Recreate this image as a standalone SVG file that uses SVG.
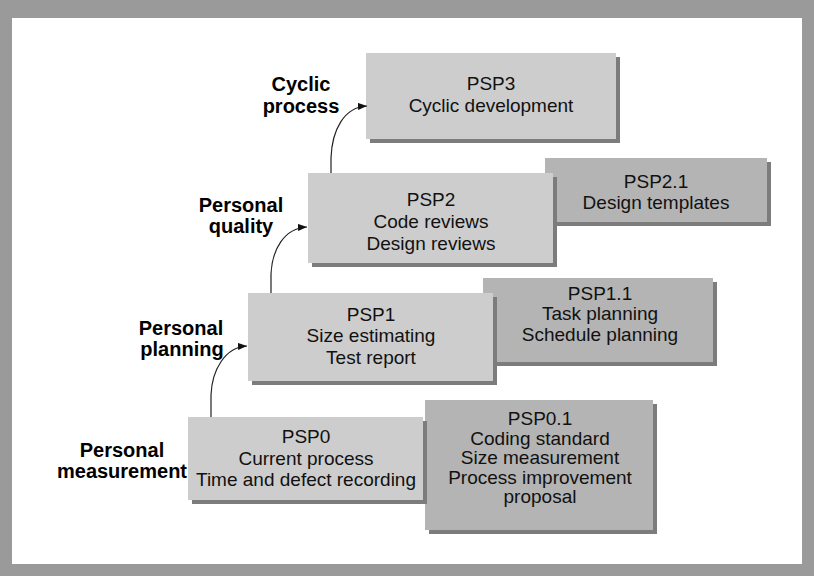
<svg xmlns="http://www.w3.org/2000/svg" width="814" height="576" viewBox="0 0 814 576">
<style>
.frame{fill:#9a9a9a}
.light{fill:#cdcdcd}
.dark{fill:#b4b4b4}
.shadow{fill:#7c7c7c}
.bt{font-family:"Liberation Sans",Arial,sans-serif;font-size:19px;fill:#111;text-anchor:middle}
.lb{font-family:"Liberation Sans",Arial,sans-serif;font-size:20px;font-weight:bold;fill:#000;text-anchor:middle}
.conn{fill:none;stroke:#222;stroke-width:1.2}
</style>
<defs>
<marker id="ah" markerUnits="userSpaceOnUse" markerWidth="9" markerHeight="7" refX="9" refY="3.5" orient="auto">
<path d="M0,0 L9,3.5 L0,7 z" fill="#111"/>
</marker>
</defs>
<rect x="0" y="0" width="814" height="576" class="frame"/>
<rect x="12" y="18" width="790" height="546" fill="#fff"/>

<g id="node-psp3">
<rect x="370" y="57" width="250" height="86" class="shadow"/>
<rect x="366" y="53" width="250" height="86" class="light"/>
<text class="bt" x="491" y="90">PSP3</text>
<text class="bt" x="491" y="112">Cyclic development</text>
</g>

<g id="node-psp2-1">
<rect x="549" y="162" width="222" height="64" class="shadow"/>
<rect x="545" y="158" width="222" height="64" class="dark"/>
<text class="bt" x="656" y="188">PSP2.1</text>
<text class="bt" x="656" y="209">Design templates</text>
</g>

<g id="node-psp2">
<rect x="312" y="177" width="245" height="90" class="shadow"/>
<rect x="308" y="173" width="245" height="90" class="light"/>
<text class="bt" x="431" y="206">PSP2</text>
<text class="bt" x="431" y="228">Code reviews</text>
<text class="bt" x="431" y="250">Design reviews</text>
</g>

<g id="node-psp1-1">
<rect x="487" y="282" width="230" height="84" class="shadow"/>
<rect x="483" y="278" width="230" height="84" class="dark"/>
<text class="bt" x="600" y="300">PSP1.1</text>
<text class="bt" x="600" y="320">Task planning</text>
<text class="bt" x="600" y="341">Schedule planning</text>
</g>

<g id="node-psp1">
<rect x="252" y="297" width="245" height="88" class="shadow"/>
<rect x="248" y="293" width="245" height="88" class="light"/>
<text class="bt" x="371" y="321">PSP1</text>
<text class="bt" x="371" y="342">Size estimating</text>
<text class="bt" x="371" y="364">Test report</text>
</g>

<g id="node-psp0-1">
<rect x="429" y="404" width="228" height="130" class="shadow"/>
<rect x="425" y="400" width="228" height="130" class="dark"/>
<text class="bt" x="540" y="425">PSP0.1</text>
<text class="bt" x="540" y="445">Coding standard</text>
<text class="bt" x="540" y="464">Size measurement</text>
<text class="bt" x="540" y="484">Process improvement</text>
<text class="bt" x="540" y="503">proposal</text>
</g>

<g id="node-psp0">
<rect x="192" y="421" width="235" height="83" class="shadow"/>
<rect x="188" y="417" width="235" height="83" class="light"/>
<text class="bt" x="306" y="443">PSP0</text>
<text class="bt" x="306" y="465">Current process</text>
<text class="bt" x="306" y="486">Time and defect recording</text>
</g>

<g id="labels">
<text class="lb" x="301" y="91">Cyclic</text>
<text class="lb" x="301" y="113">process</text>
<text class="lb" x="241" y="212">Personal</text>
<text class="lb" x="241" y="233">quality</text>
<text class="lb" x="181" y="335">Personal</text>
<text class="lb" x="182" y="356">planning</text>
<text class="lb" x="122" y="457">Personal</text>
<text class="lb" x="122" y="478">measurement</text>
</g>

<g id="connectors">
<path class="conn" d="M211 417 L211 395 C212 370 225 347 247 346" marker-end="url(#ah)"/>
<path class="conn" d="M271 293 L271 274 C272 250 284 228 307 227" marker-end="url(#ah)"/>
<path class="conn" d="M331 173 L331 158 C332 130 344 107 367 106" marker-end="url(#ah)"/>
</g>
</svg>
